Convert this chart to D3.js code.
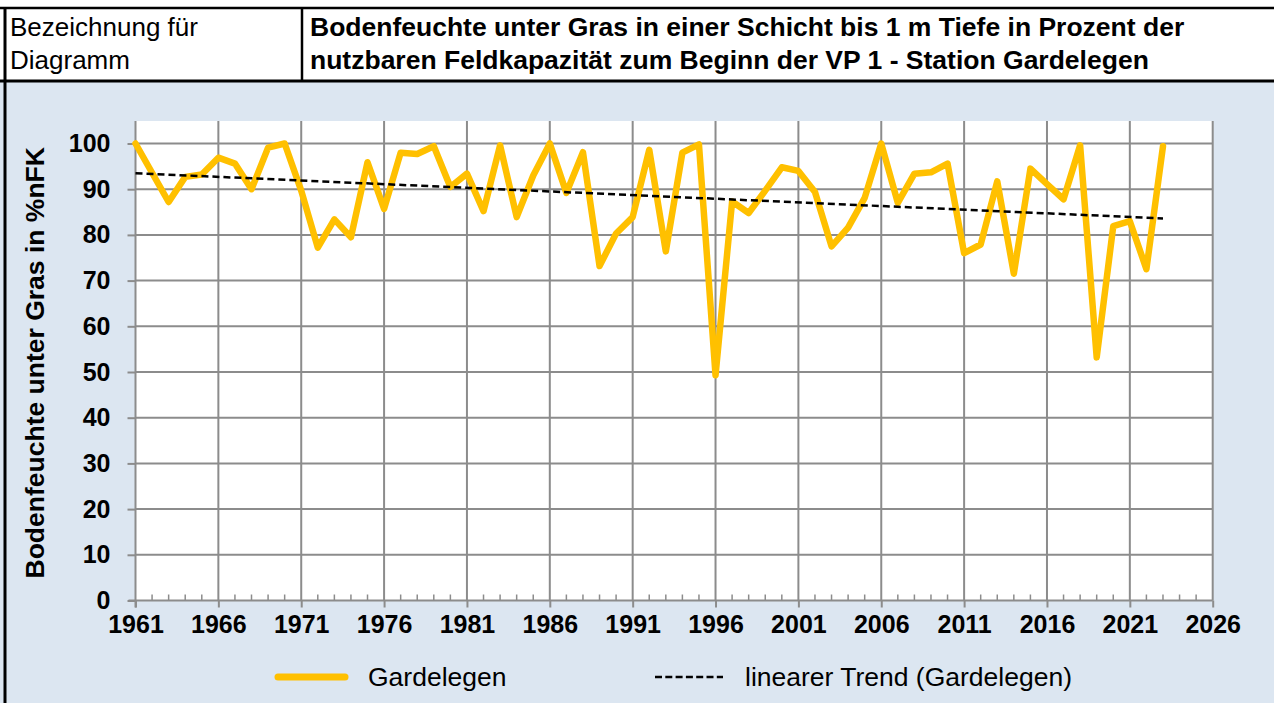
<!DOCTYPE html>
<html>
<head>
<meta charset="utf-8">
<script src="https://cdn.jsdelivr.net/npm/d3@7"></script>
<style>
  html, body { margin: 0; padding: 0; background: #ffffff; }
  svg { display: block; font-family: "Liberation Sans", Arial, sans-serif; }
</style>
</head>
<body>
<svg id="chart" width="1274" height="703"></svg>
<script>
// ---- Data ----
const years = d3.range(1961, 2024);
const gardelegen = [
  100, 93.6, 87.2, 92.7, 93.2, 96.9, 95.6, 90.0, 99.1, 100,
  89.7, 77.2, 83.4, 79.5, 95.9, 85.7, 98.0, 97.7, 99.4, 90.5,
  93.4, 85.2, 99.6, 83.9, 93.0, 100, 89.2, 98.1, 73.2, 80.3,
  83.9, 98.6, 76.4, 98.0, 99.8, 49.3, 87.3, 84.8, 89.7, 94.8,
  94.0, 89.4, 77.5, 81.6, 88.1, 100, 87.0, 93.4, 93.7, 95.6,
  76.0, 77.9, 91.7, 71.5, 94.5, 91.1, 87.8, 99.6, 53.2, 81.9,
  83.0, 72.5, 99.4
];
const trendYears = [1961, 2023];
const trendValues = [93.5, 83.6];
const xTickLabels = ["1961","1966","1971","1976","1981","1986","1991","1996","2001","2006","2011","2016","2021","2026"];
const yTickLabels = [0, 10, 20, 30, 40, 50, 60, 70, 80, 90, 100];
const headerLabel = ["Bezeichnung für", "Diagramm"];
const titleLines = ["Bodenfeuchte unter Gras in einer Schicht bis 1 m Tiefe in Prozent der",
                    "nutzbaren Feldkapazität zum Beginn der VP 1 - Station Gardelegen"];
const yAxisTitle = "Bodenfeuchte unter Gras in %nFK";
const legendLabels = ["Gardelegen", "linearer Trend (Gardelegen)"];

// ---- Layout ----
const svg = d3.select("#chart");
const W = 1274, H = 703;
const headerTop = 8, headerBottom = 81, divX = 302;
const plot = { left: 135.5, right: 1212.7, top: 121, bottom: 600.5 };

const x = d3.scaleLinear().domain([1961, 2026]).range([plot.left, plot.right]);
const y = d3.scaleLinear().domain([0, 100]).range([plot.bottom, 143.5]);

const gridColor = "#8c8c8c";
const lineColor = "#FFC000";

// Chart area background
svg.append("rect").attr("x", 0).attr("y", headerBottom).attr("width", W).attr("height", H - headerBottom)
  .attr("fill", "#dce6f1");

// Header
svg.append("rect").attr("x", 0).attr("y", headerTop).attr("width", W).attr("height", headerBottom - headerTop)
  .attr("fill", "#ffffff");
svg.append("line").attr("x1", 0).attr("x2", W).attr("y1", headerTop).attr("y2", headerTop)
  .attr("stroke", "#000").attr("stroke-width", 2.5);
svg.append("line").attr("x1", 0).attr("x2", W).attr("y1", headerBottom).attr("y2", headerBottom)
  .attr("stroke", "#000").attr("stroke-width", 3);
svg.append("line").attr("x1", divX).attr("x2", divX).attr("y1", headerTop).attr("y2", headerBottom)
  .attr("stroke", "#000").attr("stroke-width", 2.5);
svg.append("line").attr("x1", 5).attr("x2", 5).attr("y1", headerTop).attr("y2", H)
  .attr("stroke", "#000").attr("stroke-width", 3);

headerLabel.forEach((t, i) => {
  svg.append("text").attr("x", 10).attr("y", 36 + i * 33).attr("font-size", 26)
    .attr("fill", "#000").text(t);
});
titleLines.forEach((t, i) => {
  svg.append("text").attr("x", 310).attr("y", 36 + i * 33).attr("font-size", 26.5)
    .attr("font-weight", "bold").attr("fill", "#000").text(t);
});

// Plot area
svg.append("rect").attr("x", plot.left).attr("y", plot.top)
  .attr("width", plot.right - plot.left).attr("height", plot.bottom - plot.top)
  .attr("fill", "#ffffff");

// Horizontal gridlines
svg.append("g").selectAll("line").data(yTickLabels.filter(v => v > 0)).join("line")
  .attr("x1", plot.left).attr("x2", plot.right)
  .attr("y1", d => y(d)).attr("y2", d => y(d))
  .attr("stroke", gridColor).attr("stroke-width", 2);

// Vertical gridlines
svg.append("g").selectAll("line").data(xTickLabels.map(Number).filter(v => v > 1961)).join("line")
  .attr("x1", d => x(d)).attr("x2", d => x(d))
  .attr("y1", plot.top).attr("y2", plot.bottom)
  .attr("stroke", gridColor).attr("stroke-width", 2);

// X axis (bottom)
const xAxis = d3.axisBottom(x).tickValues(xTickLabels.map(Number)).tickFormat(d3.format("d"))
  .tickSize(7).tickSizeOuter(0).tickPadding(8);
const gx = svg.append("g").attr("transform", `translate(0,${plot.bottom})`).call(xAxis);
gx.select(".domain").attr("stroke", gridColor).attr("stroke-width", 2).attr("d", `M${x(1961) - 7},0H${plot.right}`);
gx.selectAll(".tick line").attr("stroke", gridColor).attr("stroke-width", 2);
gx.selectAll(".tick text").attr("font-size", 25).attr("font-weight", "bold").attr("fill", "#000")
  .attr("font-family", "Liberation Sans, Arial, sans-serif");

// Minor ticks each year (upward)
const minorYears = d3.range(1961, 2027).filter(v => (v - 1961) % 5 !== 0);
svg.append("g").selectAll("line").data(minorYears).join("line")
  .attr("x1", d => x(d)).attr("x2", d => x(d))
  .attr("y1", plot.bottom).attr("y2", plot.bottom - 6)
  .attr("stroke", gridColor).attr("stroke-width", 1.5);

// Y axis
const yAxis = d3.axisLeft(y).tickValues(yTickLabels).tickFormat(d3.format("d"))
  .tickSize(8).tickSizeOuter(0).tickPadding(17);
const gy = svg.append("g").attr("transform", `translate(${plot.left},0)`).call(yAxis);
gy.select(".domain").attr("stroke", gridColor).attr("stroke-width", 2)
  .attr("d", `M0,${plot.top}V${plot.bottom + 7}`);
gy.selectAll(".tick line").attr("stroke", gridColor).attr("stroke-width", 2);
gy.selectAll(".tick text").attr("font-size", 25).attr("font-weight", "bold").attr("fill", "#000")
  .attr("font-family", "Liberation Sans, Arial, sans-serif");

// Y axis title
svg.append("text")
  .attr("transform", `translate(44,${(plot.top + plot.bottom) / 2 + 2}) rotate(-90)`)
  .attr("text-anchor", "middle").attr("font-size", 26.5).attr("font-weight", "bold")
  .attr("fill", "#000").text(yAxisTitle);

// Data line
const series = years.map((yr, i) => ({ yr, v: gardelegen[i] }));
svg.append("path").datum(series)
  .attr("d", d3.line().x(d => x(d.yr)).y(d => y(d.v)))
  .attr("fill", "none").attr("stroke", lineColor).attr("stroke-width", 6.5)
  .attr("stroke-linejoin", "round").attr("stroke-linecap", "round");

// Trend line
const trend = trendYears.map((yr, i) => ({ yr, v: trendValues[i] }));
svg.append("path").datum(trend)
  .attr("d", d3.line().x(d => x(d.yr)).y(d => y(d.v)))
  .attr("fill", "none").attr("stroke", "#000").attr("stroke-width", 2.5)
  .attr("stroke-dasharray", "7,4");

// Legend
const ly = 677;
svg.append("line").attr("x1", 278).attr("x2", 345).attr("y1", ly).attr("y2", ly)
  .attr("stroke", lineColor).attr("stroke-width", 7).attr("stroke-linecap", "round");
svg.append("text").attr("x", 368).attr("y", ly + 9).attr("font-size", 26.5).attr("fill", "#000")
  .text(legendLabels[0]);
svg.append("line").attr("x1", 655).attr("x2", 723).attr("y1", ly).attr("y2", ly)
  .attr("stroke", "#000").attr("stroke-width", 2.5).attr("stroke-dasharray", "7,3.3");
svg.append("text").attr("x", 745).attr("y", ly + 9).attr("font-size", 26.5).attr("fill", "#000")
  .text(legendLabels[1]);
</script>
</body>
</html>
